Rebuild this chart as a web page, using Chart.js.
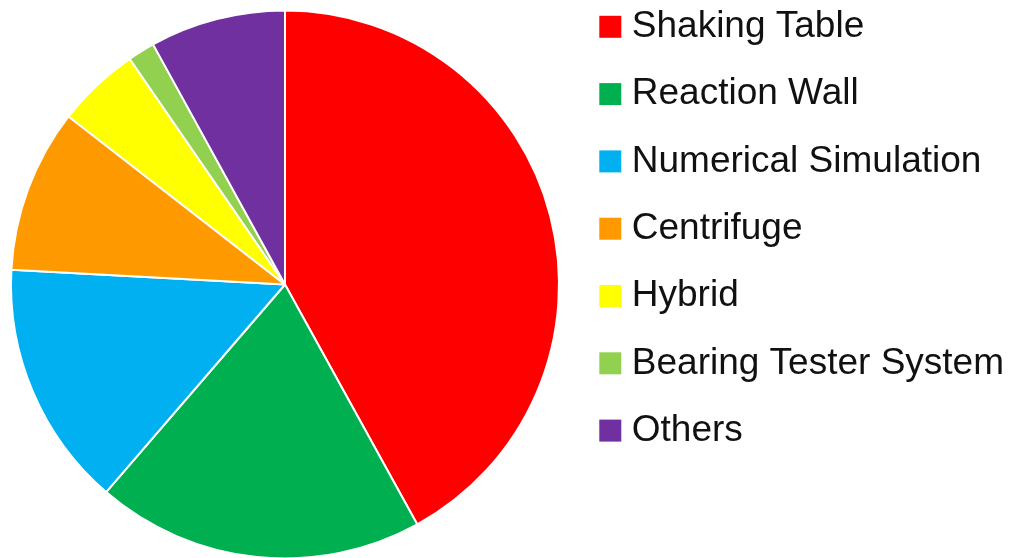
<!DOCTYPE html>
<html>
<head>
<meta charset="utf-8">
<script src="https://cdn.jsdelivr.net/npm/chart.js@4/dist/chart.umd.min.js"></script>
<style>
  html, body { margin: 0; padding: 0; background: #fff; }
  #wrap { width: 1010px; height: 558px; }
</style>
</head>
<body>
<div id="wrap"><canvas id="pieChart"></canvas></div>
<script>
const categories = ['Shaking Table', 'Reaction Wall', 'Numerical Simulation', 'Centrifuge', 'Hybrid', 'Bearing Tester System', 'Others'];
const shares = [42.0, 19.35, 14.55, 9.65, 4.9, 1.6, 8.0];
const colors = ['#FF0000', '#00B050', '#00B0F0', '#FF9900', '#FFFF00', '#92D050', '#7030A0'];

// legend sits higher than the pie centre in the original, and the pie a bit more to the left
const nudge = {
    id: 'nudge',
    afterLayout(chart) {
        chart.legend.top -= 33;
        chart.legend.bottom -= 33;
        chart.chartArea.right -= 7;
        chart.chartArea.width -= 7;
    }
};

document.addEventListener('DOMContentLoaded', () => {
    const ctx = document.getElementById('pieChart');
    new Chart(ctx, {
        type: 'pie',
        data: {
            labels: categories,
            datasets: [{
                data: shares,
                backgroundColor: colors,
                borderColor: '#ffffff',
                borderWidth: 2
            }]
        },
        options: {
            responsive: true,
            maintainAspectRatio: false,
            animation: false,
            radius: 274,
            layout: { padding: { top: 11, bottom: 0, left: 0, right: -4 } },
            plugins: {
                tooltip: { enabled: false },
                legend: {
                    position: 'right',
                    align: 'start',
                    labels: {
                        color: '#111111',
                        font: { family: 'Liberation Sans', size: 37 },
                        boxWidth: 6,
                        boxHeight: 6,
                        padding: 30.3,
                        // small box + thick stroke of the same colour, so the text sits closer to the square
                        generateLabels: chart => Chart.overrides.pie.plugins.legend.labels.generateLabels(chart)
                            .map(l => ({ ...l, strokeStyle: l.fillStyle, lineWidth: 16 }))
                    }
                }
            }
        },
        plugins: [nudge]
    });
});
</script>
</body>
</html>
